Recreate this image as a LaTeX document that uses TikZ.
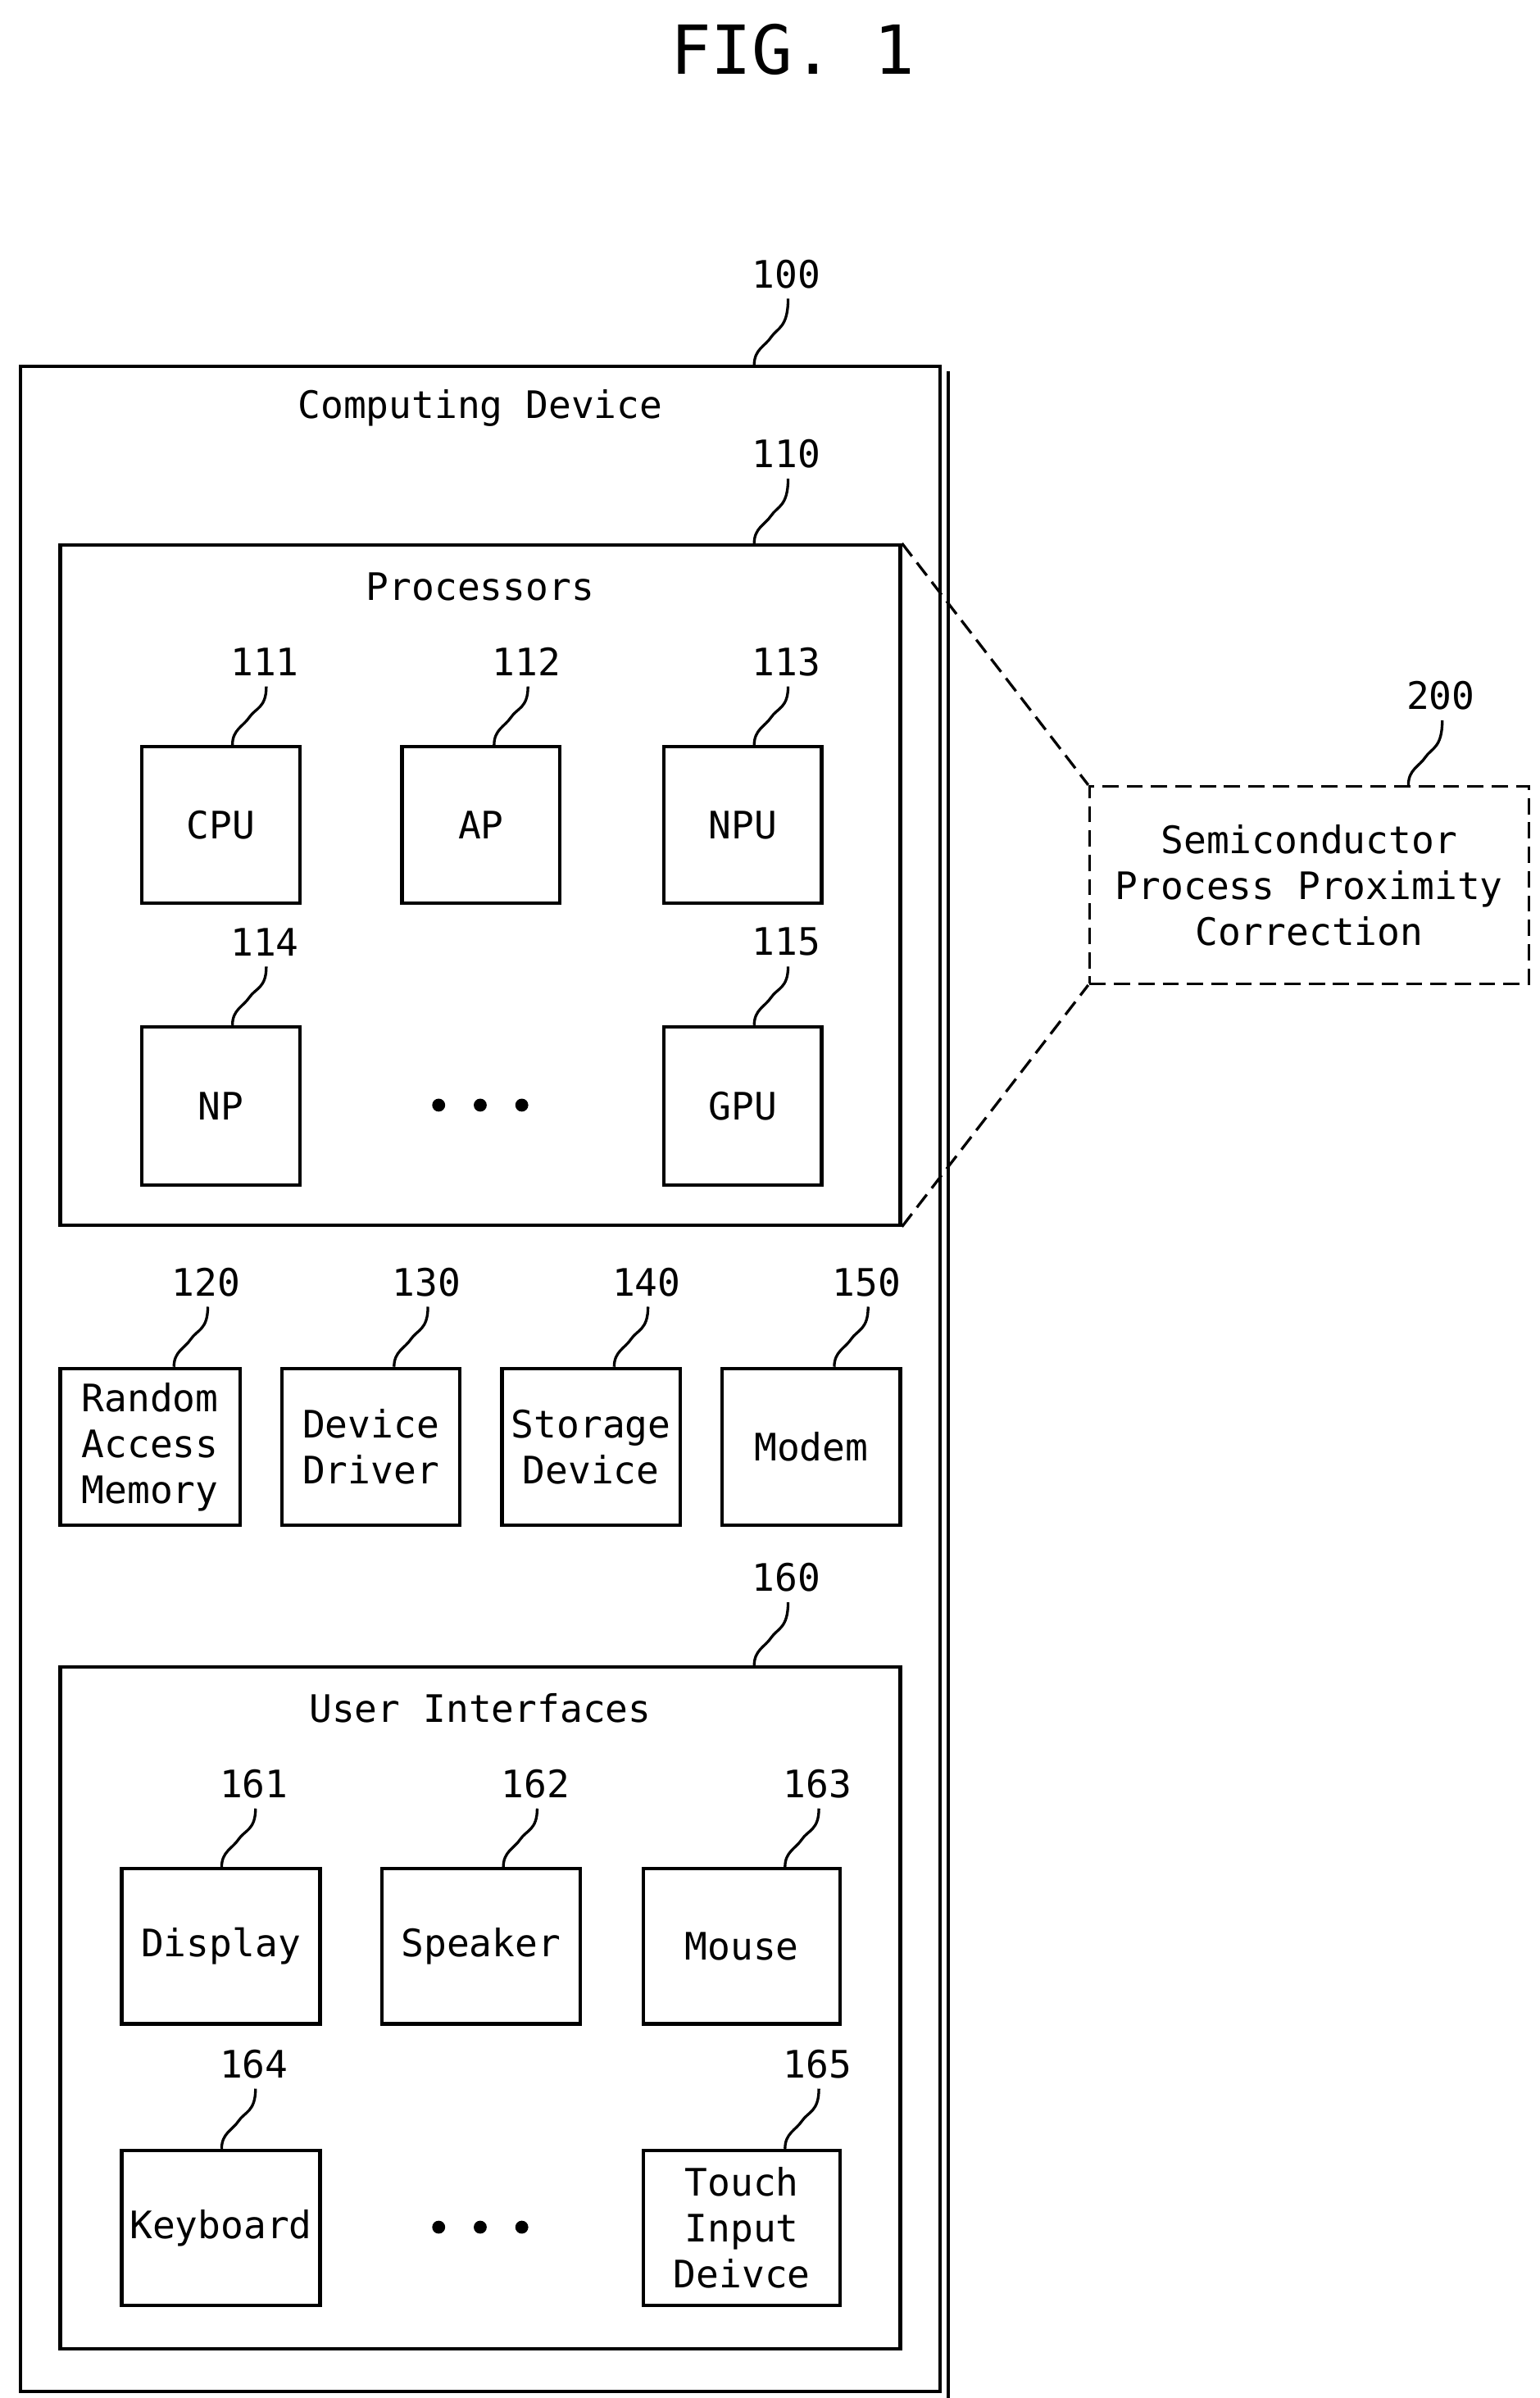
\documentclass[tikz,border=0pt]{standalone}
\usepackage{fontspec}
\setmainfont{DejaVu Sans Mono}
\usetikzlibrary{fit,calc}
\begin{document}
\begin{tikzpicture}[x=0.02cm,y=-0.02cm,
  box/.style={draw,line width=1.3pt,inner sep=-0.65pt},
  txt/.style={font=\fontsize{14}{17}\selectfont,align=center},
  lead/.style={line width=1pt},
  dsh/.style={dash pattern=on 6pt off 3pt,line width=1pt}]
\useasboundingbox (0,0) rectangle (1000,1558);
\newcommand\bx[6]{\node[box,fit={(#2,#3)(#4,#5)}] (#1) {};
  \node[txt] at (#1.center) {#6};}
\newcommand\ld[4]{% name, x at label, label y, box top y
  \node[txt] (#1) at (#2,#3) {#1};
  \draw[lead] (#2-21,#4) .. controls (#2-21,#4-10) and (#2-14,#4-12) .. (#2-10,#4-18)
     .. controls (#2-6,#4-24) and (#2+1,#4-24) .. (#2+1,#3+16);}
\newcommand\mydots[1]{\foreach \dx in {-27,0,27}{\fill ($(#1)+(\dx,0)$) circle (2.4pt);}}
\node[font=\fontsize{25}{30}\selectfont] (fig) at (515,32) {FIG. 1};
% outer
\draw[line width=1.3pt] (616,241) -- (616,1559) -- (16,1559);
\bx{outer}{12}{237}{612}{1555}{}
\node[txt] (cd) at (312,265) {Computing Device};
\ld{100}{511}{178}{237}
% processors
\bx{proc}{38}{353}{586}{797}{}
\node[txt] (pt) at (312,381) {Processors};
\ld{110}{511}{295}{353}
\bx{cpu}{91}{484}{196}{588}{CPU}
\bx{ap}{260}{484}{365}{588}{AP}
\bx{npu}{430}{484}{535}{588}{NPU}
\bx{np}{91}{666}{196}{771}{NP}
\bx{gpu}{430}{666}{535}{771}{GPU}
\coordinate (pd) at (312,718);
\mydots{pd}
\ld{111}{172}{430}{484}
\ld{112}{342}{430}{484}
\ld{113}{511}{430}{484}
\ld{114}{172}{612}{666}
\ld{115}{511}{612}{666}
% middle row
\bx{ram}{38}{888}{157}{992}{Random\\Access\\Memory}
\bx{dd}{182}{888}{300}{992}{Device\\Driver}
\bx{sd}{325}{888}{443}{992}{Storage\\Device}
\bx{mod}{468}{888}{586}{992}{Modem}
\ld{120}{134}{833}{888}
\ld{130}{277}{833}{888}
\ld{140}{420}{833}{888}
\ld{150}{563}{833}{888}
% UI
\bx{ui}{38}{1082}{586}{1527}{}
\node[txt] (ut) at (312,1110) {User Interfaces};
\ld{160}{511}{1025}{1082}
\bx{disp}{78}{1213}{209}{1316}{Display}
\bx{spk}{247}{1213}{378}{1316}{Speaker}
\bx{mouse}{417}{1213}{547}{1316}{Mouse}
\bx{kb}{78}{1396}{209}{1499}{Keyboard}
\bx{touch}{417}{1396}{547}{1499}{Touch\\Input\\Deivce}
\coordinate (ud) at (312,1447);
\mydots{ud}
\ld{161}{165}{1159}{1213}
\ld{162}{348}{1159}{1213}
\ld{163}{531}{1159}{1213}
\ld{164}{165}{1341}{1396}
\ld{165}{531}{1341}{1396}
% 200
\node[draw,dsh,inner sep=-0.5pt,fit={(707,510)(994,640)}] (spc) {};
\node[txt] at (spc.center) {Semiconductor\\Process Proximity\\Correction};
\ld{200}{936}{452}{510}
\draw[dsh] (proc.north east) -- (spc.north west);
\draw[dsh] (proc.south east) -- (spc.south west);
\end{tikzpicture}
\end{document}
